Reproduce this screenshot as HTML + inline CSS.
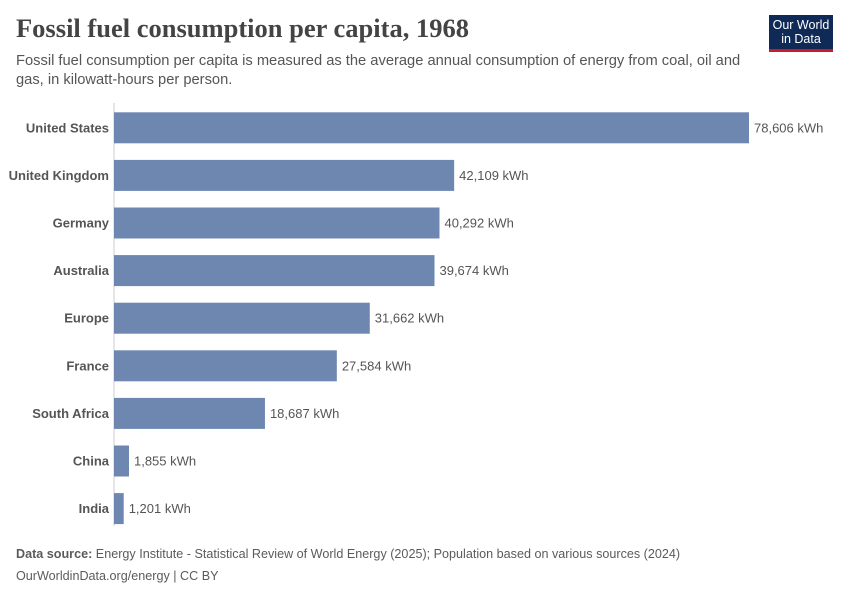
<!DOCTYPE html>
<html><head><meta charset="utf-8"><style>
body{margin:0;background:#fff;font-family:"Liberation Sans",sans-serif;}
#wrap{position:relative;width:850px;height:600px;overflow:hidden;}
.t{position:absolute;white-space:nowrap;}
</style></head><body>
<div id="wrap">
<div class="t" style="left:16px;top:13px;font-family:'Liberation Serif',serif;font-size:26.5px;font-weight:bold;color:#444;">Fossil fuel consumption per capita, 1968</div>
<div class="t" style="left:16px;top:52px;font-size:14.7px;color:#555;line-height:19px;white-space:normal;width:740px;">Fossil fuel consumption per capita is measured as the average annual consumption of energy from coal, oil and gas, in kilowatt-hours per person.</div>
<div style="position:absolute;left:769px;top:15px;width:64px;background:#0f2a56;border-bottom:3px solid #c81b2b;color:#fff;font-size:12.5px;line-height:14px;text-align:center;padding-top:3px;height:31px;">Our World<br>in Data</div>
<svg id="svg" width="850" height="600" style="position:absolute;left:0;top:0"></svg>
<div class="t" style="left:16px;top:547px;font-size:12.6px;color:#5b5b5b;"><b>Data source:</b> Energy Institute - Statistical Review of World Energy (2025); Population based on various sources (2024)</div>
<div class="t" style="left:16px;top:569px;font-size:12.6px;color:#5b5b5b;">OurWorldinData.org/energy | CC BY</div>
</div>
<script>
const categories=["United States","United Kingdom","Germany","Australia","Europe","France","South Africa","China","India"];
const values=[78606,42109,40292,39674,31662,27584,18687,1855,1201];
const labels=["78,606 kWh","42,109 kWh","40,292 kWh","39,674 kWh","31,662 kWh","27,584 kWh","18,687 kWh","1,855 kWh","1,201 kWh"];
const svg=document.getElementById('svg');const NS='http://www.w3.org/2000/svg';
const x0=114,xMax=78606,w=635;
function xs(v){return x0+v/xMax*w;}
const top0=104,step=47.6,bh=31;
function yc(i){return top0+step*i+step/2;}
function mk(t,a){const e=document.createElementNS(NS,t);for(const k in a)e.setAttribute(k,a[k]);svg.appendChild(e);return e;}
const ax=mk('line',{x1:x0,x2:x0,y1:103,y2:526,stroke:'#ccc','stroke-width':1});


categories.forEach((c,i)=>{
  const y=yc(i);
  const r=mk('rect',{x:x0,y:y-bh/2,width:xs(values[i])-x0,height:bh,fill:'#6d87b0'});
  
  
  const l=mk('text',{x:x0-5,y:y+4.5,'text-anchor':'end','font-size':13,'font-weight':'bold',fill:'#555','font-family':'Liberation Sans,sans-serif'});
  l.textContent=c;
  
  
  const v=mk('text',{x:xs(values[i])+5,y:y+4.5,'font-size':13,fill:'#555','font-family':'Liberation Sans,sans-serif'});
  v.textContent=labels[i];
  
  
});
</script>
</body></html>
